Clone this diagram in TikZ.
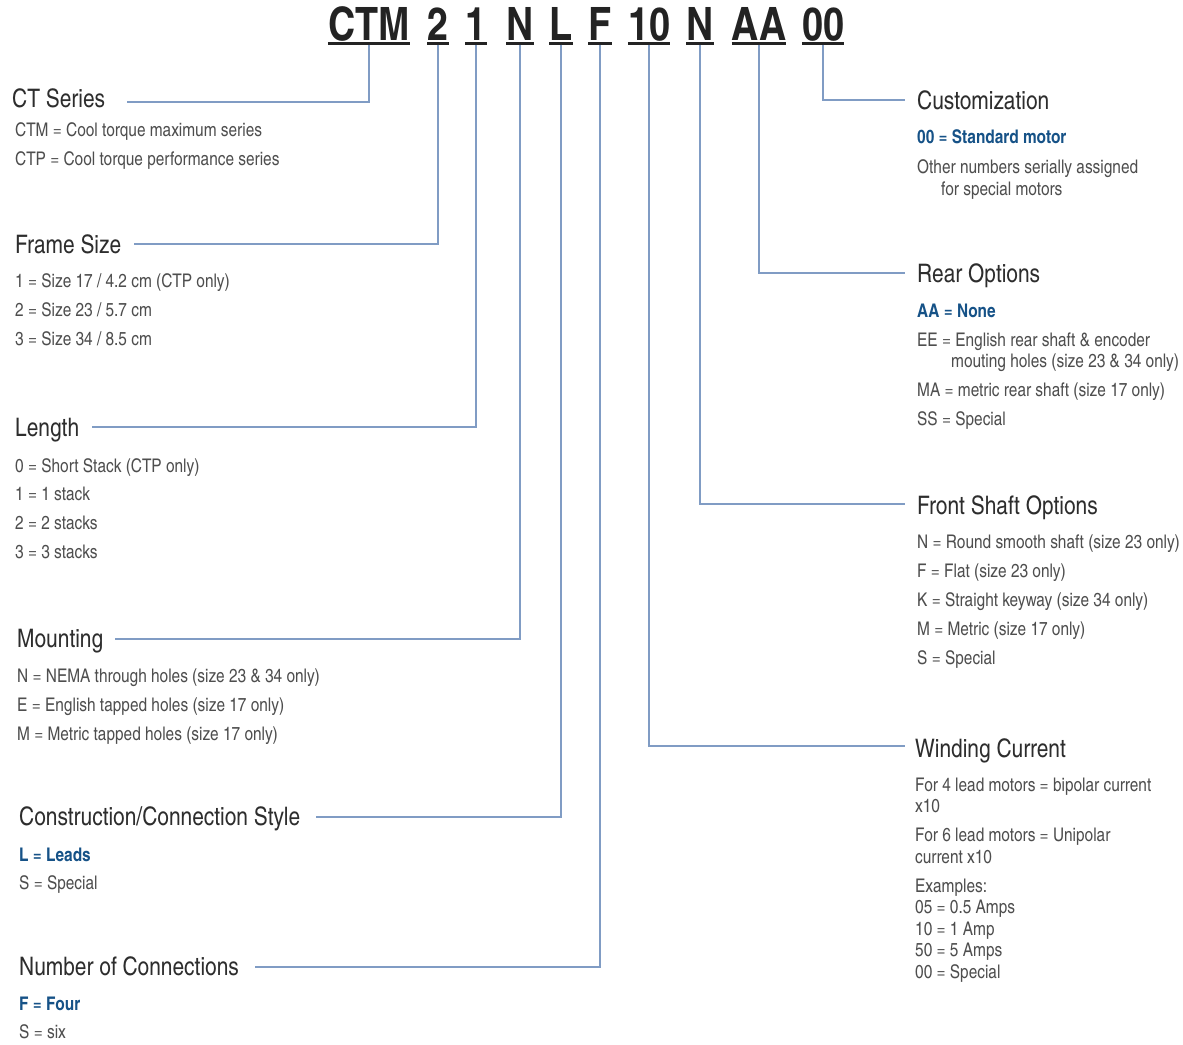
\documentclass[tikz,border=0pt]{standalone}
\usepackage{fontspec}
\setmainfont{texgyreheroscn}[Extension=.otf, UprightFont=*-regular, BoldFont=*-bold]
\usetikzlibrary{positioning}
\definecolor{ct_line}{RGB}{128,156,196}
\definecolor{ct_blue}{RGB}{22,82,135}
\definecolor{ct_text}{RGB}{78,78,78}
\definecolor{ct_head}{RGB}{45,45,45}
\definecolor{ct_code}{RGB}{35,35,35}

\begin{document}
\begin{tikzpicture}[x=1pt, y=-1pt,
    code/.style={font=\fontsize{46}{46}\selectfont\bfseries, text=ct_code, inner sep=0pt, anchor=base},
    head/.style={font=\fontsize{25.5}{27}\selectfont, text=ct_head, inner sep=0pt, anchor=base west},
    desc/.style={font=\fontsize{18.8}{21.5}\selectfont, text=ct_text, inner sep=0pt, anchor=base west},
    key/.style={desc, font=\fontsize{18.8}{21.5}\selectfont\bfseries, text=ct_blue},
    link/.style={draw=ct_line, line width=1.1pt}]
  \path[use as bounding box] (0,0) rectangle (1183,1044);

  % Part number
  \foreach \nm/\xx/\txt in {tCTM/369/CTM, tTwo/438/2, tOne/476/1, tMnt/520/N, tCon/561/L,
      tNum/600/F, tWnd/649/10, tFrt/700/N, tRear/759/AA, tCust/823/00} {
    \node[code] (\nm) at (\xx,40) {\txt};
    \draw[ct_code, line width=3pt] ([yshift=-3pt]\nm.base west) -- ([yshift=-3pt]\nm.base east);
  }

  % Left column
  \node[head] (hSeries) at (12,107) {CT Series};
  \foreach \yy/\txt [count=\i] in {136/{CTM = Cool torque maximum series},
      165/{CTP = Cool torque performance series}}
    \node[desc] (dSer\i) at (15,\yy) {\txt};

  \node[head] (hFrame) at (15,253) {Frame Size};
  \foreach \yy/\txt [count=\i] in {287.5/{1 = Size 17 / 4.2 cm (CTP only)},
      316.5/{2 = Size 23 / 5.7 cm}, 345.5/{3 = Size 34 / 8.5 cm}}
    \node[desc] (dFrm\i) at (15,\yy) {\txt};

  \node[head] (hLength) at (15,436) {Length};
  \foreach \yy/\txt [count=\i] in {472/{0 = Short Stack (CTP only)}, 500.5/{1 = 1 stack},
      529.5/{2 = 2 stacks}, 558.5/{3 = 3 stacks}}
    \node[desc] (dLen\i) at (15,\yy) {\txt};

  \node[head] (hMount) at (17,647) {Mounting};
  \foreach \yy/\txt [count=\i] in {682.5/{N = NEMA through holes (size 23 \& 34 only)},
      711.5/{E = English tapped holes (size 17 only)},
      740.5/{M = Metric tapped holes (size 17 only)}}
    \node[desc] (dMnt\i) at (17,\yy) {\txt};

  \node[head] (hConstr) at (19,825) {Construction/Connection Style};
  \node[key] (kConstr) at (19,861) {L = Leads};
  \node[desc] (dCon1) at (19,889) {S = Special};

  \node[head] (hNumber) at (19,975) {Number of Connections};
  \node[key] (kNumber) at (19,1010) {F = Four};
  \node[desc] (dNum1) at (19,1038) {S = six};

  % Right column
  \node[head] (hCustom) at (917,109) {Customization};
  \node[key] (kCustom) at (917,143.5) {00 = Standard motor};
  \node[desc] (dCus1) at (917,173) {Other numbers serially assigned};
  \node[desc] (dCus2) at (941,195) {for special motors};

  \node[head] (hRear) at (917,282) {Rear Options};
  \node[key] (kRear) at (917,317) {AA = None};
  \foreach \xx/\yy/\txt [count=\i] in {917/346/{EE = English rear shaft \& encoder},
      951/367.5/{mouting holes (size 23 \& 34 only)},
      917/396/{MA = metric rear shaft (size 17 only)}, 917/425/{SS = Special}}
    \node[desc] (dRer\i) at (\xx,\yy) {\txt};

  \node[head] (hFront) at (917,514) {Front Shaft Options};
  \foreach \yy/\txt [count=\i] in {548.5/{N = Round smooth shaft (size 23 only)},
      577.5/{F = Flat (size 23 only)}, 606.5/{K = Straight keyway (size 34 only)},
      635.5/{M = Metric (size 17 only)}, 664.5/{S = Special}}
    \node[desc] (dFrt\i) at (917,\yy) {\txt};

  \node[head] (hWinding) at (915,757) {Winding Current};
  \foreach \yy/\txt [count=\i] in {791.5/{For 4 lead motors = bipolar current}, 812.5/{x10},
      841.5/{For 6 lead motors = Unipolar}, 863/{current x10}, 892.5/{Examples:},
      913.5/{05 = 0.5 Amps}, 935.5/{10 = 1 Amp}, 956.5/{50 = 5 Amps}, 978.5/{00 = Special}}
    \node[desc] (dWnd\i) at (915,\yy) {\txt};

  % Leader lines
  \draw[link] ([yshift=-4.5pt]tCTM.base) |- ([xshift=22pt,yshift=5pt]hSeries.base east);
  \draw[link] ([yshift=-4.5pt]tTwo.base) |- ([xshift=13pt,yshift=9pt]hFrame.base east);
  \draw[link] ([yshift=-4.5pt]tOne.base) |- ([xshift=13pt,yshift=9pt]hLength.base east);
  \draw[link] ([yshift=-4.5pt]tMnt.base) |- ([xshift=12pt,yshift=8pt]hMount.base east);
  \draw[link] ([yshift=-4.5pt]tCon.base) |- ([xshift=16pt,yshift=8pt]hConstr.base east);
  \draw[link] ([yshift=-4.5pt]tNum.base) |- ([xshift=16pt,yshift=8pt]hNumber.base east);
  \draw[link] ([yshift=-4.5pt]tWnd.base) |- ([xshift=-10pt,yshift=11pt]hWinding.base west);
  \draw[link] ([yshift=-4.5pt]tFrt.base) |- ([xshift=-12pt,yshift=10pt]hFront.base west);
  \draw[link] ([yshift=-4.5pt]tRear.base) |- ([xshift=-12pt,yshift=9pt]hRear.base west);
  \draw[link] ([yshift=-4.5pt]tCust.base) |- ([xshift=-12pt,yshift=9pt]hCustom.base west);
\end{tikzpicture}
\end{document}
